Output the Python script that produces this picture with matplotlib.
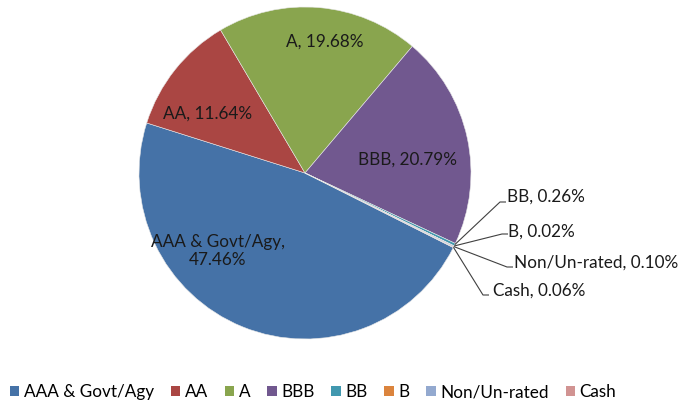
import numpy as np
import matplotlib
matplotlib.use("Agg")
import matplotlib.pyplot as plt
from matplotlib.patches import Patch

plt.rcParams['font.family'] = ['Lato', 'DejaVu Sans']

categories = ["AAA & Govt/Agy", "AA", "A", "BBB", "BB", "B", "Non/Un-rated", "Cash"]
shares = [47.46, 11.64, 19.68, 20.79, 0.26, 0.02, 0.10, 0.06]
colors = ["#4572A7", "#AA4643", "#89A54E", "#71588F", "#4198AF", "#DB843D", "#93A9CF", "#D19392"]

W, H = 680, 400
cx, cy, R = 305, 173, 166  # pie centre and radius in pixels

fig = plt.figure(figsize=(W / 100, H / 100), dpi=100)
ax = fig.add_axes([(cx - R) / W, (H - cy - R) / H, 2 * R / W, 2 * R / H])
ax.axis("off")

wedges, _ = ax.pie(shares, colors=colors, startangle=-26.7, counterclock=False,
                   radius=1, center=(0, 0), frame=False,
                   wedgeprops=dict(linewidth=0.4, edgecolor="#e8e8e8"))
ax.set_xlim(-1, 1)
ax.set_ylim(-1, 1)


def px(x, y):
    # pixel position -> data coordinates of the pie axes
    return (x - cx) / R, (cy - y) / R


def label(i):
    return f"{categories[i]}, {shares[i]:.2f}%"


fs = 12.3
# labels inside the big slices
inside = {0: (218, 251), 1: (208, 114), 2: (325, 42), 3: (407, 160)}
for i, (x, y) in inside.items():
    txt = label(i)
    if i == 0:
        txt = f"{categories[i]},\n{shares[i]:.2f}%"
    ax.text(*px(x, y), txt, ha="center", va="center", fontsize=fs,
            color="#1a1a1a", linespacing=1.1)

# leader lines for the thin slices
outside = {4: ((500, 202), (507, 197)), 5: ((502, 234), (508, 232)),
           6: ((507, 267), (514, 263)), 7: ((483, 295), (493, 291))}
for i, (elbow, tpos) in outside.items():
    w = wedges[i]
    mid = np.deg2rad((w.theta1 + w.theta2) / 2)
    x0, y0 = np.cos(mid), np.sin(mid)
    ex, ey = px(*elbow)
    hx, _ = px(elbow[0] + 6, elbow[1])
    ax.plot([x0, ex, hx], [y0, ey, ey], color="#404040", lw=0.8,
            solid_capstyle="butt", clip_on=False)
    ax.text(*px(*tpos), label(i), ha="left", va="center", fontsize=fs,
            color="#1a1a1a", clip_on=False)

handles = [Patch(facecolor=c, edgecolor="none") for c in colors]
fig.legend(handles, categories, loc="center", bbox_to_anchor=(313 / W, 1 - 392 / H),
           ncol=8, frameon=False, fontsize=fs, handlelength=0.55, handleheight=0.55,
           handletextpad=0.25, columnspacing=1.0, borderaxespad=0)

fig.savefig("out.png", dpi=100)
